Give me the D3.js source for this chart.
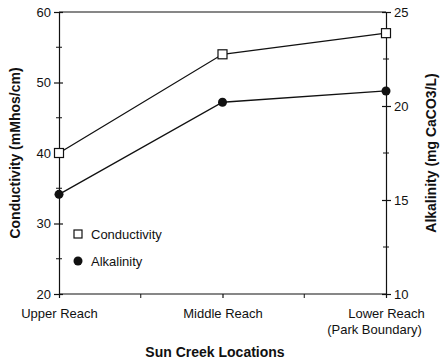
<!DOCTYPE html>
<html lang="en">
<head>
<meta charset="UTF-8">
<script src="https://d3js.org/d3.v7.min.js"></script>
<style>
  body { margin: 0; background: #fff; }
  text { font-family: "Liberation Sans", Arial, Helvetica, sans-serif; fill: #111; }
  .axis path, .axis line { stroke: #111; stroke-width: 1.2; }
  .title { font-weight: bold; font-size: 14px; }
</style>
</head>
<body>
<script>
const locations = ['Upper Reach', 'Middle Reach', 'Lower Reach'];
const conductivity = [40, 54, 57];
const alkalinity = [15.3, 20.2, 20.8];
const condTicks = [20, 30, 40, 50, 60];
const alkTicks = [10, 15, 20, 25];

const width = 442, height = 363;
const margin = {top: 12, right: 56, bottom: 69, left: 59};

const svg = d3.select('body').append('svg')
  .attr('width', width).attr('height', height);

const x = d3.scalePoint().domain(locations).range([margin.left, width - margin.right]);
const yL = d3.scaleLinear().domain([20, 60]).range([height - margin.bottom, margin.top]);
const yR = d3.scaleLinear().domain([10, 25]).range([height - margin.bottom, margin.top]);

// top frame line
svg.append('line')
  .attr('x1', margin.left).attr('x2', width - margin.right)
  .attr('y1', margin.top).attr('y2', margin.top)
  .attr('stroke', '#111').attr('stroke-width', 1.2);

// minor ticks
const minor = svg.append('g').attr('stroke', '#111').attr('stroke-width', 1);
d3.range(25, 60, 10).forEach(v => {
  minor.append('line').attr('x1', margin.left - 3).attr('x2', margin.left + 3)
    .attr('y1', yL(v)).attr('y2', yL(v));
});
d3.range(12.5, 25, 5).forEach(v => {
  minor.append('line').attr('x1', width - margin.right - 3).attr('x2', width - margin.right + 3)
    .attr('y1', yR(v)).attr('y2', yR(v));
});
[0.5, 1.5].forEach(i => {
  const px = margin.left + i * (x(locations[1]) - x(locations[0]));
  minor.append('line').attr('x1', px).attr('x2', px)
    .attr('y1', height - margin.bottom).attr('y2', height - margin.bottom + 4);
});

// left axis
const gL = svg.append('g').attr('class', 'axis')
  .attr('transform', `translate(${margin.left},0)`)
  .call(d3.axisLeft(yL).tickValues(condTicks).tickSize(4).tickSizeOuter(0));
gL.selectAll('.tick line').attr('x2', 4).attr('x1', -5);
gL.selectAll('.tick text').attr('x', -8).style('font-size', '13px');

// right axis
const gR = svg.append('g').attr('class', 'axis')
  .attr('transform', `translate(${width - margin.right},0)`)
  .call(d3.axisRight(yR).tickValues(alkTicks).tickSize(4).tickSizeOuter(0));
gR.selectAll('.tick line').attr('x1', -4).attr('x2', 5);
gR.selectAll('.tick text').attr('x', 8).style('font-size', '13px');

// bottom axis
const gB = svg.append('g').attr('class', 'axis')
  .attr('transform', `translate(0,${height - margin.bottom})`)
  .call(d3.axisBottom(x).tickSize(4).tickSizeOuter(0).tickFormat(''));
gB.select('.domain').attr('d', `M${margin.left},0H${width - margin.right}`);
gB.selectAll('.tick').each(function(d) {
  const t = d3.select(this);
  if (d === 'Lower Reach') {
    t.append('text').attr('y', 24).attr('text-anchor', 'middle').style('font-size', '13px').text('Lower Reach');
    t.append('text').attr('x', -12).attr('y', 40).attr('text-anchor', 'middle').style('font-size', '13px').text('(Park Boundary)');
  } else {
    t.append('text').attr('y', 24).attr('text-anchor', 'middle').style('font-size', '13px').text(d);
  }
});

// lines
const lineL = d3.line().x((d, i) => x(locations[i])).y(d => yL(d));
const lineR = d3.line().x((d, i) => x(locations[i])).y(d => yR(d));

svg.append('path').datum(conductivity).attr('d', lineL)
  .attr('fill', 'none').attr('stroke', '#111').attr('stroke-width', 1.3);
svg.append('path').datum(alkalinity).attr('d', lineR)
  .attr('fill', 'none').attr('stroke', '#111').attr('stroke-width', 1.3);

svg.append('g').selectAll('rect').data(conductivity).enter().append('rect')
  .attr('x', (d, i) => x(locations[i]) - 4.5).attr('y', d => yL(d) - 4.5)
  .attr('width', 9).attr('height', 9)
  .attr('fill', '#fff').attr('stroke', '#111').attr('stroke-width', 1.2);
svg.append('g').selectAll('circle').data(alkalinity).enter().append('circle')
  .attr('cx', (d, i) => x(locations[i])).attr('cy', d => yR(d)).attr('r', 4.5)
  .attr('fill', '#111');

// legend
const lg = svg.append('g').attr('transform', 'translate(78,234)');
lg.append('rect').attr('x', -4).attr('y', -4).attr('width', 8).attr('height', 8)
  .attr('fill', '#fff').attr('stroke', '#111').attr('stroke-width', 1.2);
lg.append('text').attr('x', 13).attr('y', 5).style('font-size', '13px').text('Conductivity');
lg.append('circle').attr('cx', 0).attr('cy', 27).attr('r', 4.5).attr('fill', '#111');
lg.append('text').attr('x', 13).attr('y', 32).style('font-size', '13px').text('Alkalinity');

// titles
svg.append('text').attr('class', 'title')
  .attr('transform', `translate(20,${(margin.top + height - margin.bottom) / 2}) rotate(-90)`)
  .attr('text-anchor', 'middle').text('Conductivity (mMhos/cm)');
svg.append('text').attr('class', 'title')
  .attr('transform', `translate(436,${(margin.top + height - margin.bottom) / 2}) rotate(-90)`)
  .attr('text-anchor', 'middle').text('Alkalinity (mg CaCO3/L)');
svg.append('text').attr('class', 'title')
  .attr('x', 215).attr('y', 357).attr('text-anchor', 'middle').text('Sun Creek Locations');
</script>
</body>
</html>
